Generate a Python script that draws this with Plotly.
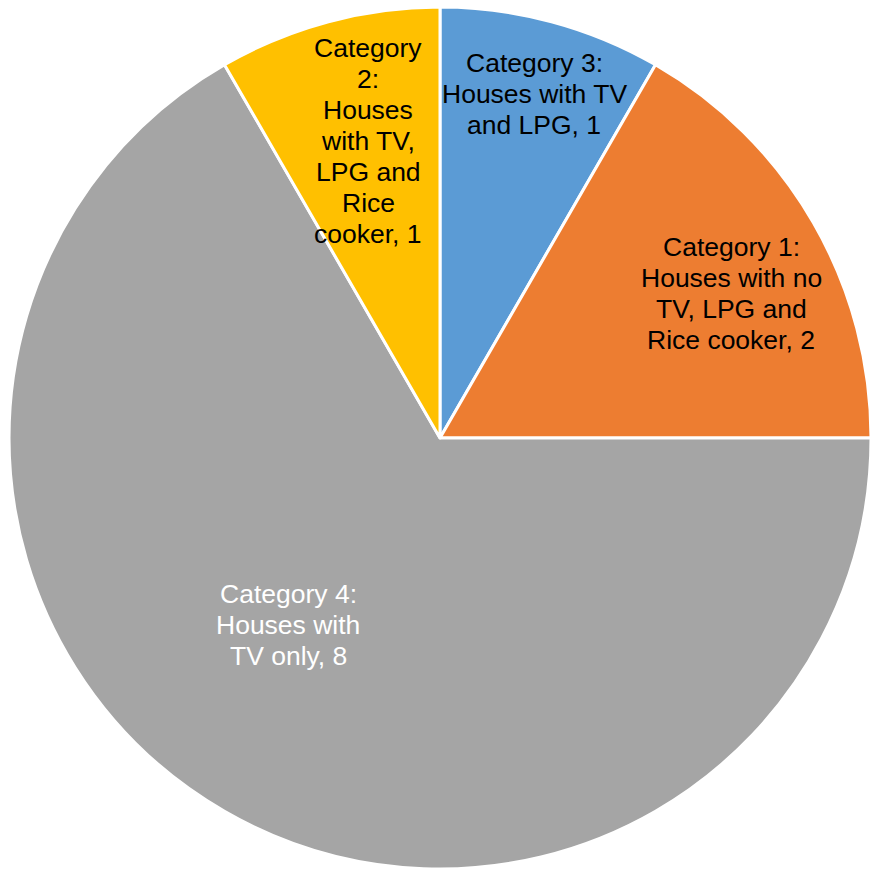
import plotly.graph_objects as go

W, H = 871, 872

# Data (clockwise from 12 o'clock, as in the reference)
categories = ["Category 3", "Category 1", "Category 4", "Category 2"]
descriptions = ["Houses with TV and LPG", "Houses with no TV, LPG and Rice cooker",
                "Houses with TV only", "Houses with TV, LPG and Rice cooker"]
values = [1, 2, 8, 1]
colors = ["#5B9BD5", "#ED7D31", "#A5A5A5", "#FFC000"]
text_colors = ["black", "black", "white", "black"]

# Label line wrapping as in the reference
label_lines = [
    ["Category 3:", "Houses with TV", "and LPG, 1"],
    ["Category 1:", "Houses with no", "TV, LPG and", "Rice cooker, 2"],
    ["Category 4:", "Houses with", "TV only, 8"],
    ["Category 2:".split(" ")[0], "2:", "Houses", "with TV,", "LPG and", "Rice", "cooker, 1"],
]
# label block centres in pixels
label_centers = [(534, 94), (731, 293), (288, 625), (368, 141)]
line_spacing = 31
font_size = 26.5

fig = go.Figure(go.Pie(
    labels=categories,
    values=values,
    sort=False,
    direction="clockwise",
    rotation=0,
    marker=dict(colors=colors, line=dict(color="white", width=3)),
    textinfo="none",
    hoverinfo="label+value",
    showlegend=False,
    domain=dict(x=[9 / W, 871 / W], y=[3 / H, 865 / H]),
))

annotations = []
for lines, (cx, cy), tc in zip(label_lines, label_centers, text_colors):
    n = len(lines)
    for i, ln in enumerate(lines):
        py = cy + (i - (n - 1) / 2) * line_spacing
        annotations.append(dict(
            x=cx / W, y=1 - py / H, xref="paper", yref="paper",
            text=ln, showarrow=False, xanchor="center", yanchor="middle",
            font=dict(family="Liberation Sans, Arial, sans-serif", size=font_size, color=tc),
        ))

fig.update_layout(
    width=W, height=H,
    margin=dict(l=0, r=0, t=0, b=0),
    paper_bgcolor="white",
    plot_bgcolor="white",
    annotations=annotations,
)

fig.write_html("out.html")
